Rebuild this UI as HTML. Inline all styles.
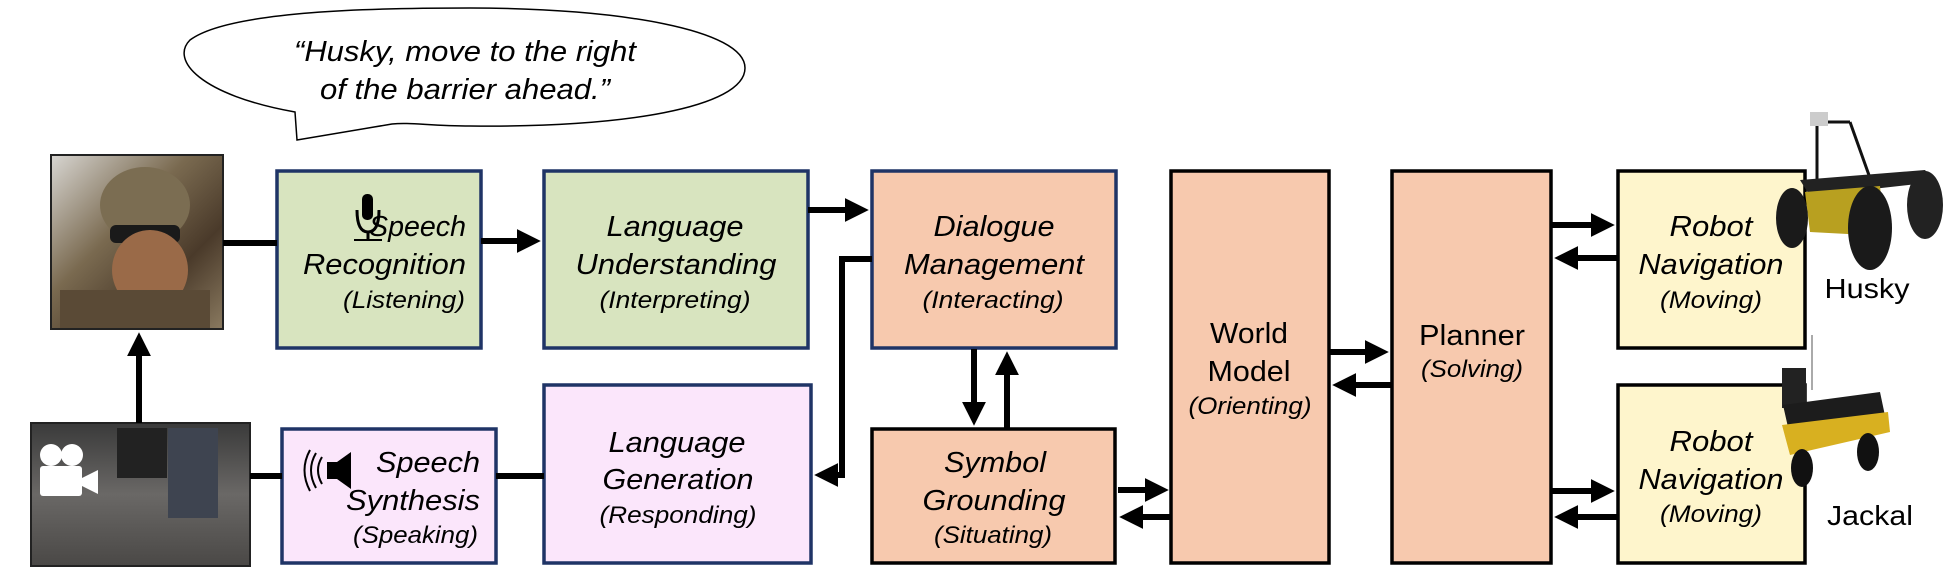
<!DOCTYPE html>
<html><head><meta charset="utf-8"><style>
html,body{margin:0;padding:0;background:#fff;}
svg{display:block;}
text{font-family:"Liberation Sans",sans-serif;fill:#000;}
.i{font-style:italic;}
</style></head><body>
<svg width="1957" height="587" viewBox="0 0 1957 587" xmlns="http://www.w3.org/2000/svg">
<defs>
<marker id="ah" markerWidth="4" markerHeight="4" refX="2.2" refY="2" orient="auto" markerUnits="strokeWidth">
<path d="M0,0 L4,2 L0,4 Z" fill="#000"/></marker>
<linearGradient id="sold" x1="0" y1="0" x2="1" y2="1">
<stop offset="0" stop-color="#d8d6d2"/><stop offset="0.4" stop-color="#7a6a50"/><stop offset="0.7" stop-color="#4a3a2a"/><stop offset="1" stop-color="#8a7a60"/></linearGradient>
<linearGradient id="vid" x1="0" y1="0" x2="0" y2="1">
<stop offset="0" stop-color="#3a3a3a"/><stop offset="0.5" stop-color="#6a6866"/><stop offset="1" stop-color="#4a4846"/></linearGradient>
</defs>

<!-- speech bubble -->
<path d="M295,112 C200,95 170,60 190,40 C230,10 380,8 470,8 C620,8 745,30 745,68 C745,108 620,128 470,126 C430,126 410,122 392,124 L297,140 Z" fill="#fff" stroke="#000" stroke-width="1.5"/>
<text class="i" x="465" y="61" font-size="29" text-anchor="middle" textLength="342" lengthAdjust="spacingAndGlyphs">“Husky, move to the right</text>
<text class="i" x="465" y="99" font-size="29" text-anchor="middle" textLength="290" lengthAdjust="spacingAndGlyphs">of the barrier ahead.”</text>

<!-- soldier photo -->
<rect x="51" y="155" width="172" height="174" fill="url(#sold)" stroke="#222" stroke-width="2"/>
<ellipse cx="145" cy="205" rx="45" ry="38" fill="#7b6d52"/>
<rect x="110" y="225" width="70" height="18" rx="6" fill="#1a1a1a"/>
<ellipse cx="150" cy="270" rx="38" ry="40" fill="#9a6a48"/>
<rect x="60" y="290" width="150" height="38" fill="#5a4a36"/>

<!-- video frame -->
<rect x="31" y="423" width="219" height="143" fill="url(#vid)" stroke="#222" stroke-width="2"/>
<rect x="117" y="428" width="50" height="50" fill="#222"/>
<rect x="168" y="428" width="50" height="90" fill="#3e4450"/>
<circle cx="51" cy="455" r="11" fill="#fff"/><circle cx="72" cy="455" r="11" fill="#fff"/>
<rect x="40" y="466" width="42" height="30" rx="3" fill="#fff"/>
<path d="M82,478 L98,470 L98,494 L82,486 Z" fill="#fff"/>

<!-- boxes -->
<g stroke-width="3.5">
<rect x="277" y="171" width="204" height="177" fill="#d8e4bf" stroke="#1f3466"/>
<rect x="544" y="171" width="264" height="177" fill="#d8e4bf" stroke="#1f3466"/>
<rect x="872" y="171" width="244" height="177" fill="#f7c9ae" stroke="#1f3466"/>
<rect x="282" y="429" width="214" height="134" fill="#fbe6fb" stroke="#1f3466"/>
<rect x="544" y="385" width="267" height="178" fill="#fbe6fb" stroke="#1f3466"/>
<rect x="872" y="429" width="243" height="134" fill="#f7c9ae" stroke="#000"/>
<rect x="1171" y="171" width="158" height="392" fill="#f7c9ae" stroke="#000"/>
<rect x="1392" y="171" width="159" height="392" fill="#f7c9ae" stroke="#000"/>
<rect x="1618" y="171" width="187" height="177" fill="#fef5cc" stroke="#000"/>
<rect x="1618" y="385" width="187" height="178" fill="#fef5cc" stroke="#000"/>
</g>

<!-- connectors -->
<g stroke="#000" stroke-width="6" fill="none">
<line x1="223" y1="243" x2="277" y2="243"/>
<line x1="481" y1="241" x2="530" y2="241" marker-end="url(#ah)"/>
<line x1="808" y1="210" x2="858" y2="210" marker-end="url(#ah)"/>
<polyline points="872,259 842,259 842,475 825,475" marker-end="url(#ah)"/>
<line x1="496" y1="476" x2="544" y2="476"/>
<line x1="250" y1="476" x2="282" y2="476"/>
<line x1="139" y1="423" x2="139" y2="343" marker-end="url(#ah)"/>
<line x1="974" y1="349" x2="974" y2="415" marker-end="url(#ah)"/>
<line x1="1007" y1="428" x2="1007" y2="362" marker-end="url(#ah)"/>
<line x1="1118" y1="490" x2="1158" y2="490" marker-end="url(#ah)"/>
<line x1="1171" y1="517" x2="1130" y2="517" marker-end="url(#ah)"/>
<line x1="1329" y1="352" x2="1378" y2="352" marker-end="url(#ah)"/>
<line x1="1392" y1="385" x2="1343" y2="385" marker-end="url(#ah)"/>
<line x1="1551" y1="225" x2="1604" y2="225" marker-end="url(#ah)"/>
<line x1="1618" y1="258" x2="1565" y2="258" marker-end="url(#ah)"/>
<line x1="1551" y1="491" x2="1604" y2="491" marker-end="url(#ah)"/>
<line x1="1618" y1="517" x2="1565" y2="517" marker-end="url(#ah)"/>
</g>

<!-- icons -->
<rect x="362" y="194" width="11" height="26" rx="5" fill="#000"/>
<path d="M357,210 Q357,232 368,232 Q379,232 379,210" fill="none" stroke="#000" stroke-width="3"/>
<line x1="368" y1="232" x2="368" y2="240" stroke="#000" stroke-width="3"/>
<line x1="354" y1="240" x2="382" y2="240" stroke="#000" stroke-width="2"/>
<path d="M327,462 L337,462 L351,452 L351,489 L337,479 L327,479 Z" fill="#000"/>
<path d="M322,457 Q314,470 322,484 M316,453 Q306,470 316,488 M310,450 Q299,470 310,491" fill="none" stroke="#000" stroke-width="2"/>

<!-- box texts -->
<text class="i" x="466" y="236" font-size="29" text-anchor="end" textLength="97" lengthAdjust="spacingAndGlyphs">Speech</text>
<text class="i" x="466" y="274" font-size="29" text-anchor="end" textLength="163" lengthAdjust="spacingAndGlyphs">Recognition</text>
<text class="i" x="465" y="308" font-size="24" text-anchor="end" textLength="122" lengthAdjust="spacingAndGlyphs">(Listening)</text>

<text class="i" x="675" y="236" font-size="29" text-anchor="middle" textLength="137" lengthAdjust="spacingAndGlyphs">Language</text>
<text class="i" x="676" y="274" font-size="29" text-anchor="middle" textLength="201" lengthAdjust="spacingAndGlyphs">Understanding</text>
<text class="i" x="675" y="308" font-size="24" text-anchor="middle" textLength="151" lengthAdjust="spacingAndGlyphs">(Interpreting)</text>

<text class="i" x="994" y="236" font-size="29" text-anchor="middle" textLength="121" lengthAdjust="spacingAndGlyphs">Dialogue</text>
<text class="i" x="994" y="274" font-size="29" text-anchor="middle" textLength="180" lengthAdjust="spacingAndGlyphs">Management</text>
<text class="i" x="993" y="308" font-size="24" text-anchor="middle" textLength="141" lengthAdjust="spacingAndGlyphs">(Interacting)</text>

<text class="i" x="480" y="472" font-size="29" text-anchor="end" textLength="104" lengthAdjust="spacingAndGlyphs">Speech</text>
<text class="i" x="480" y="510" font-size="29" text-anchor="end" textLength="134" lengthAdjust="spacingAndGlyphs">Synthesis</text>
<text class="i" x="478" y="543" font-size="24" text-anchor="end" textLength="125" lengthAdjust="spacingAndGlyphs">(Speaking)</text>

<text class="i" x="677" y="452" font-size="29" text-anchor="middle" textLength="137" lengthAdjust="spacingAndGlyphs">Language</text>
<text class="i" x="678" y="489" font-size="29" text-anchor="middle" textLength="151" lengthAdjust="spacingAndGlyphs">Generation</text>
<text class="i" x="678" y="523" font-size="24" text-anchor="middle" textLength="157" lengthAdjust="spacingAndGlyphs">(Responding)</text>

<text class="i" x="995" y="472" font-size="29" text-anchor="middle" textLength="102" lengthAdjust="spacingAndGlyphs">Symbol</text>
<text class="i" x="994" y="510" font-size="29" text-anchor="middle" textLength="143" lengthAdjust="spacingAndGlyphs">Grounding</text>
<text class="i" x="993" y="543" font-size="24" text-anchor="middle" textLength="118" lengthAdjust="spacingAndGlyphs">(Situating)</text>

<text x="1249" y="343" font-size="29" text-anchor="middle" textLength="78" lengthAdjust="spacingAndGlyphs">World</text>
<text x="1249" y="381" font-size="29" text-anchor="middle" textLength="83" lengthAdjust="spacingAndGlyphs">Model</text>
<text class="i" x="1250" y="414" font-size="24" text-anchor="middle" textLength="123" lengthAdjust="spacingAndGlyphs">(Orienting)</text>

<text x="1472" y="345" font-size="29" text-anchor="middle" textLength="106" lengthAdjust="spacingAndGlyphs">Planner</text>
<text class="i" x="1472" y="377" font-size="24" text-anchor="middle" textLength="102" lengthAdjust="spacingAndGlyphs">(Solving)</text>

<text class="i" x="1711" y="236" font-size="29" text-anchor="middle" textLength="83" lengthAdjust="spacingAndGlyphs">Robot</text>
<text class="i" x="1711" y="274" font-size="29" text-anchor="middle" textLength="145" lengthAdjust="spacingAndGlyphs">Navigation</text>
<text class="i" x="1711" y="308" font-size="24" text-anchor="middle" textLength="102" lengthAdjust="spacingAndGlyphs">(Moving)</text>

<text class="i" x="1711" y="451" font-size="29" text-anchor="middle" textLength="83" lengthAdjust="spacingAndGlyphs">Robot</text>
<text class="i" x="1711" y="489" font-size="29" text-anchor="middle" textLength="145" lengthAdjust="spacingAndGlyphs">Navigation</text>
<text class="i" x="1711" y="522" font-size="24" text-anchor="middle" textLength="102" lengthAdjust="spacingAndGlyphs">(Moving)</text>

<!-- Husky robot -->
<g>
<line x1="1817" y1="180" x2="1817" y2="120" stroke="#111" stroke-width="3"/>
<line x1="1850" y1="122" x2="1870" y2="178" stroke="#111" stroke-width="3"/>
<line x1="1817" y1="122" x2="1850" y2="122" stroke="#111" stroke-width="3"/>
<rect x="1810" y="112" width="18" height="14" fill="#ccc"/>
<path d="M1800,180 L1925,170 L1935,182 L1810,196 Z" fill="#222"/>
<path d="M1805,192 L1880,186 L1885,236 L1810,232 Z" fill="#b8a020"/>
<ellipse cx="1792" cy="218" rx="16" ry="30" fill="#1a1a1a"/>
<ellipse cx="1870" cy="228" rx="22" ry="42" fill="#1a1a1a"/>
<ellipse cx="1925" cy="205" rx="18" ry="34" fill="#222"/>
</g>
<!-- Jackal robot -->
<g>
<line x1="1812" y1="390" x2="1812" y2="335" stroke="#aaa" stroke-width="2"/>
<rect x="1782" y="368" width="24" height="40" fill="#222"/>
<path d="M1783,405 L1880,392 L1888,430 L1792,445 Z" fill="#1c1c1c"/>
<path d="M1782,425 L1888,412 L1890,432 L1790,455 Z" fill="#d8b020"/>
<ellipse cx="1802" cy="468" rx="11" ry="19" fill="#111"/>
<ellipse cx="1868" cy="452" rx="11" ry="19" fill="#111"/>
</g>
<text x="1867" y="298" font-size="28" text-anchor="middle" textLength="85" lengthAdjust="spacingAndGlyphs">Husky</text>
<text x="1870" y="525" font-size="28" text-anchor="middle" textLength="86" lengthAdjust="spacingAndGlyphs">Jackal</text>
</svg>
</body></html>
